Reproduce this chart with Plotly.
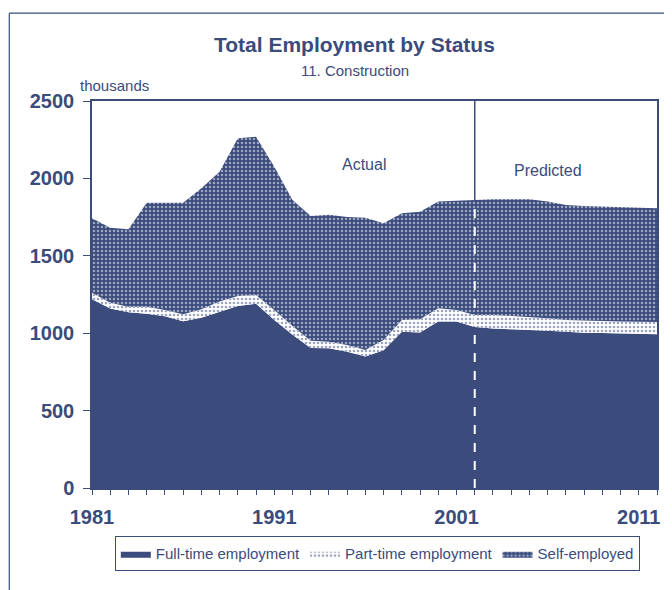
import plotly.graph_objects as go

years = list(range(1981, 2013))
full_time = [1220, 1160, 1135, 1125, 1110, 1078, 1100, 1140, 1175, 1190, 1085, 990, 905, 902, 880, 850,
             890, 1010, 1005, 1075, 1075, 1040, 1030, 1025, 1022, 1016, 1010, 1003, 1002, 999, 995, 993]
part_time = [42, 37, 36, 46, 40, 44, 54, 64, 65, 57, 65, 57, 46, 43, 44, 41,
             66, 75, 85, 86, 75, 78, 88, 86, 85, 80, 75, 78, 75, 76, 79, 79]
self_employed = [480, 485, 500, 672, 693, 721, 782, 839, 1019, 1022, 926, 813, 806, 820, 826, 855,
                 754, 690, 695, 689, 705, 742, 747, 754, 758, 754, 743, 741, 741, 740, 736, 735]
x_labels = [1981, 1991, 2001, 2011]
y_ticks = [0, 500, 1000, 1500, 2000, 2500]
forecast_start = 2002

NAVY = "#3a4b7c"
FONT = "Arial, Liberation Sans, sans-serif"

fig = go.Figure()
fig.add_trace(go.Scatter(
    x=years, y=full_time, name="Full-time employment", stackgroup="s",
    mode="lines", line=dict(width=0, color=NAVY), fillcolor=NAVY))
fig.add_trace(go.Scatter(
    x=years, y=part_time, name="Part-time employment", stackgroup="s",
    mode="lines", line=dict(width=0, color=NAVY),
    fillpattern=dict(shape=".", bgcolor="white", fgcolor=NAVY, size=4, solidity=0.35)))
fig.add_trace(go.Scatter(
    x=years, y=self_employed, name="Self-employed", stackgroup="s",
    mode="lines", line=dict(width=0, color=NAVY),
    fillpattern=dict(shape=".", bgcolor=NAVY, fgcolor="white", size=4, solidity=0.32)))

idx = years.index(forecast_start)
total_at = full_time[idx] + part_time[idx] + self_employed[idx]

shapes = [
    dict(type="line", xref="x", yref="y", x0=forecast_start, x1=forecast_start,
         y0=0, y1=total_at, line=dict(color="white", width=2, dash="dash"), layer="above"),
    dict(type="line", xref="x", yref="y", x0=forecast_start, x1=forecast_start,
         y0=total_at, y1=2500, line=dict(color=NAVY, width=1.5), layer="above"),
    # outer frame
    dict(type="line", xref="paper", yref="paper", x0=-0.1464, x1=1.1, y0=1.227, y1=1.227,
         line=dict(color=NAVY, width=1.2)),
    dict(type="line", xref="paper", yref="paper", x0=-0.1464, x1=-0.1464, y0=1.227, y1=-0.35,
         line=dict(color=NAVY, width=1.2)),
]

fig.update_layout(
    width=664, height=582,
    margin=dict(l=84, r=13, t=93, b=102),
    paper_bgcolor="white", plot_bgcolor="white",
    font=dict(family=FONT, color=NAVY),
    showlegend=True,
    legend=dict(orientation="h", x=0.505, xanchor="center", y=-0.125, yanchor="top",
                bordercolor=NAVY, borderwidth=1, font=dict(size=15, color=NAVY),
                itemwidth=30, tracegroupgap=0, traceorder="normal"),
    shapes=shapes,
    annotations=[
        dict(text="<b>Total Employment by Status</b>", xref="paper", yref="paper",
             x=0.465, y=1.145, xanchor="center", yanchor="middle", showarrow=False,
             font=dict(size=21, color=NAVY)),
        dict(text="11. Construction", xref="paper", yref="paper",
             x=0.465, y=1.078, xanchor="center", yanchor="middle", showarrow=False,
             font=dict(size=15, color=NAVY)),
        dict(text="thousands", xref="paper", yref="paper",
             x=-0.025, y=1.04, xanchor="left", yanchor="middle", showarrow=False,
             font=dict(size=15, color=NAVY)),
        dict(text="Actual", xref="x", yref="y", x=1995.9, y=2087, showarrow=False,
             font=dict(size=16, color=NAVY)),
        dict(text="Predicted", xref="x", yref="y", x=2006.0, y=2054, showarrow=False,
             font=dict(size=16, color=NAVY)),
    ],
)

fig.update_xaxes(
    range=[1981, 2012], tickvals=x_labels, ticktext=[str(v) for v in x_labels],
    ticks="outside", ticklen=5, tickcolor=NAVY, tickwidth=1, ticklabelstandoff=5,
    minor=dict(dtick=1, tick0=1981, ticks="outside", ticklen=5, tickcolor=NAVY, tickwidth=1),
    showline=True, linecolor=NAVY, linewidth=1.5, mirror=True,
    showgrid=False, zeroline=False,
    tickfont=dict(size=20, family=FONT, color=NAVY, weight="bold"),
)
fig.update_yaxes(
    range=[0, 2500], tickvals=y_ticks,
    ticks="outside", ticklen=7, tickcolor=NAVY, tickwidth=1, ticklabelstandoff=5,
    showline=True, linecolor=NAVY, linewidth=1.5, mirror=True,
    showgrid=False, zeroline=False,
    tickfont=dict(size=20, family=FONT, color=NAVY, weight="bold"),
)

fig.write_html("out.html")
